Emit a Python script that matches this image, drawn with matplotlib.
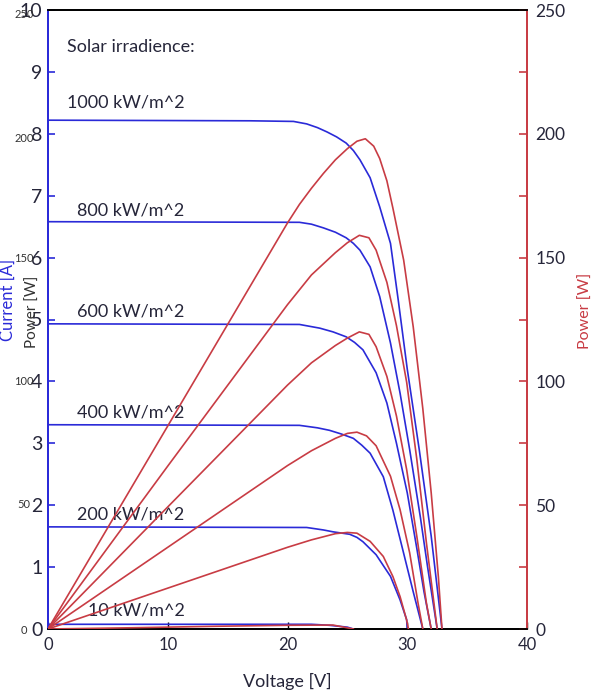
import matplotlib
matplotlib.use("Agg")
import matplotlib.pyplot as plt
from matplotlib.ticker import MultipleLocator

# ---- data ----
irradiance_labels = ["1000 kW/m^2", "800 kW/m^2", "600 kW/m^2", "400 kW/m^2", "200 kW/m^2", "10 kW/m^2"]

# current curves (Voltage [V], Current [A])
v_i1000 = [0, 16.9, 20.5, 21.6, 22.5, 23.3, 24.1, 24.9, 25.5, 26.05, 26.9, 27.7, 28.6, 29.25, 30.0, 31.0, 32.0, 32.9]
i1000 = [8.22, 8.21, 8.20, 8.16, 8.10, 8.03, 7.95, 7.85, 7.73, 7.58, 7.29, 6.82, 6.23, 5.31, 4.2, 2.9, 1.5, 0]
v_i800 = [0, 21.0, 22.0, 23.0, 24.0, 24.9, 25.5, 26.05, 26.9, 27.7, 28.6, 29.4, 30.2, 31.1, 31.7, 32.5]
i800 = [6.58, 6.57, 6.54, 6.48, 6.41, 6.32, 6.23, 6.12, 5.85, 5.37, 4.62, 3.81, 2.9, 1.8, 1.0, 0]
v_i600 = [0, 21.0, 22.7, 23.8, 24.9, 25.6, 26.3, 27.4, 28.3, 29.1, 30.0, 30.8, 31.4, 32.0]
i600 = [4.93, 4.92, 4.86, 4.80, 4.72, 4.63, 4.51, 4.14, 3.65, 3.0, 2.2, 1.3, 0.6, 0]
v_i400 = [0, 21.0, 22.5, 23.5, 24.5, 25.5, 26.2, 26.9, 28.0, 28.8, 29.6, 30.5, 31.3]
i400 = [3.30, 3.29, 3.25, 3.21, 3.15, 3.08, 2.97, 2.84, 2.46, 1.92, 1.3, 0.6, 0]
v_i200 = [0, 21.6, 23.0, 23.8, 25.2, 25.8, 26.3, 27.4, 28.6, 29.4, 29.95, 30.0]
i200 = [1.65, 1.64, 1.60, 1.57, 1.53, 1.48, 1.41, 1.20, 0.85, 0.47, 0.15, 0]
v_i10 = [0, 22.0, 23.5, 25.0, 25.5]
i10 = [0.076, 0.076, 0.06, 0.03, 0]

# power curves (Voltage [V], Power [W])
v_p1000 = [0, 10, 20, 21, 22, 23, 24, 25, 25.8, 26.5, 27.2, 27.7, 28.3, 28.8, 29.7, 30.5, 31.3, 32.0, 32.6, 32.9]
p1000 = [0, 82, 164, 171.5, 178, 184, 189.5, 194, 197, 198, 195, 190, 181, 170, 149, 122, 89, 55, 21, 0]
v_p800 = [0, 10, 20, 22, 24, 25, 26.0, 26.8, 27.4, 28.3, 29.1, 29.95, 30.8, 31.6, 32.5]
p800 = [0, 65.8, 131, 143, 152, 156, 159, 158, 153, 140, 122.5, 99.7, 68.5, 34.8, 0]
v_p600 = [0, 10, 20, 22, 24, 25, 26.0, 26.8, 27.4, 28.3, 29.1, 29.95, 30.8, 31.6, 32.0]
p600 = [0, 49.3, 98.5, 107.5, 114.5, 117.5, 120, 119, 114, 102, 86, 64.4, 37.4, 10.5, 0]
v_p400 = [0, 10, 20, 22, 24, 25, 25.8, 26.6, 27.4, 28.6, 29.4, 30.2, 30.9, 31.3]
p400 = [0, 33, 66, 72, 77, 79, 79.5, 78, 74, 61.7, 48.2, 30.8, 10.5, 0]
v_p200 = [0, 10, 20, 22, 24, 25, 25.8, 26.9, 28.0, 28.8, 29.4, 29.95, 30.1]
p200 = [0, 16.5, 33, 36, 38.5, 39, 38.7, 35.4, 29.3, 21.2, 13.1, 3.6, 0]
v_p10 = [0, 7, 14, 20, 23.8, 25.5]
p10 = [0, 0.5, 1.1, 1.5, 1.6, 0]

current_x = [v_i1000, v_i800, v_i600, v_i400, v_i200, v_i10]
current_y = [i1000, i800, i600, i400, i200, i10]
power_x = [v_p1000, v_p800, v_p600, v_p400, v_p200, v_p10]
power_y = [p1000, p800, p600, p400, p200, p10]

x_ticks = [0, 10, 20, 30, 40]
i_ticks = list(range(0, 11))
p_ticks = [0, 50, 100, 150, 200, 250]

# ---- styling ----
W, H = 599, 691
BLUE = "#2a2ad8"
RED = "#c83c44"
TXT = "#26263a"
FONT = "Lato"
plt.rcParams["font.family"] = [FONT, "DejaVu Sans"]

fig = plt.figure(figsize=(W / 100, H / 100), dpi=100)
L, R, T, B = 48, 527, 10, 629
ax = fig.add_axes([L / W, 1 - B / H, (R - L) / W, (B - T) / H])
ax2 = ax.twinx()

for xs, ys in zip(current_x, current_y):
    ax.plot(xs, ys, color=BLUE, lw=1.2, zorder=3)
for xs, ys in zip(power_x, power_y):
    ax2.plot(xs, ys, color=RED, lw=1.2, zorder=3)

ax.set_xlim(0, 40)
ax.set_ylim(0, 10)
ax2.set_ylim(0, 250)

ax.set_xticks(x_ticks)
ax.set_yticks(i_ticks)
ax2.set_yticks(p_ticks)
ax2.yaxis.set_minor_locator(MultipleLocator(25))

ax.tick_params(axis="x", direction="in", length=5, width=1, color="black",
               labelsize=12, labelcolor=TXT, pad=6)
ax.tick_params(axis="y", direction="in", length=5, width=1.2, color=BLUE,
               labelsize=14, labelcolor=TXT, pad=4)
ax2.tick_params(axis="y", which="both", direction="in", length=6, width=1.2,
                color=RED, labelsize=12.5, labelcolor=TXT, pad=6)

for a in (ax, ax2):
    a.spines["top"].set_color("black")
    a.spines["bottom"].set_color("black")
    a.spines["left"].set_color(BLUE)
    a.spines["right"].set_color(RED)
    for s in a.spines.values():
        s.set_linewidth(1.3)

ax.set_xlabel("Voltage [V]", fontsize=13, color=TXT, labelpad=14)
fig.text(586 / W, 1 - 311 / H, "Power [W]", rotation=90, color=RED, fontsize=11.5,
         ha="center", va="center")

# text labels inside the plot
def px2data(px, py):
    return ((px - L) / (R - L) * 40, (B - py) / (B - T) * 10)

ax.text(*px2data(67, 47), "Solar irradience:", fontsize=13, color=TXT, va="center", ha="left")
label_pos = [(67, 103), (77, 211), (77, 312), (77, 413), (77, 514), (88, 610)]
for lab, (px, py) in zip(irradiance_labels, label_pos):
    ax.text(*px2data(px, py), lab, fontsize=13, color=TXT, va="center", ha="left", zorder=2)

# left-side overlapping labels
fig.text(8 / W, 1 - 300 / H, "Current [A]", rotation=90, color=BLUE, fontsize=12,
         ha="center", va="center")
fig.text(33 / W, 1 - 312 / H, "Power [W]", rotation=90, color="#333333", fontsize=11,
         ha="center", va="center")
ghost = [("250", 15), ("200", 138), ("150", 258), ("100", 382), ("50", 505), ("0", 630)]
for s, py in ghost:
    fig.text(24 / W, 1 - py / H, s, fontsize=8, color="#333333", ha="center", va="center")

fig.savefig("out.png", dpi=100)
